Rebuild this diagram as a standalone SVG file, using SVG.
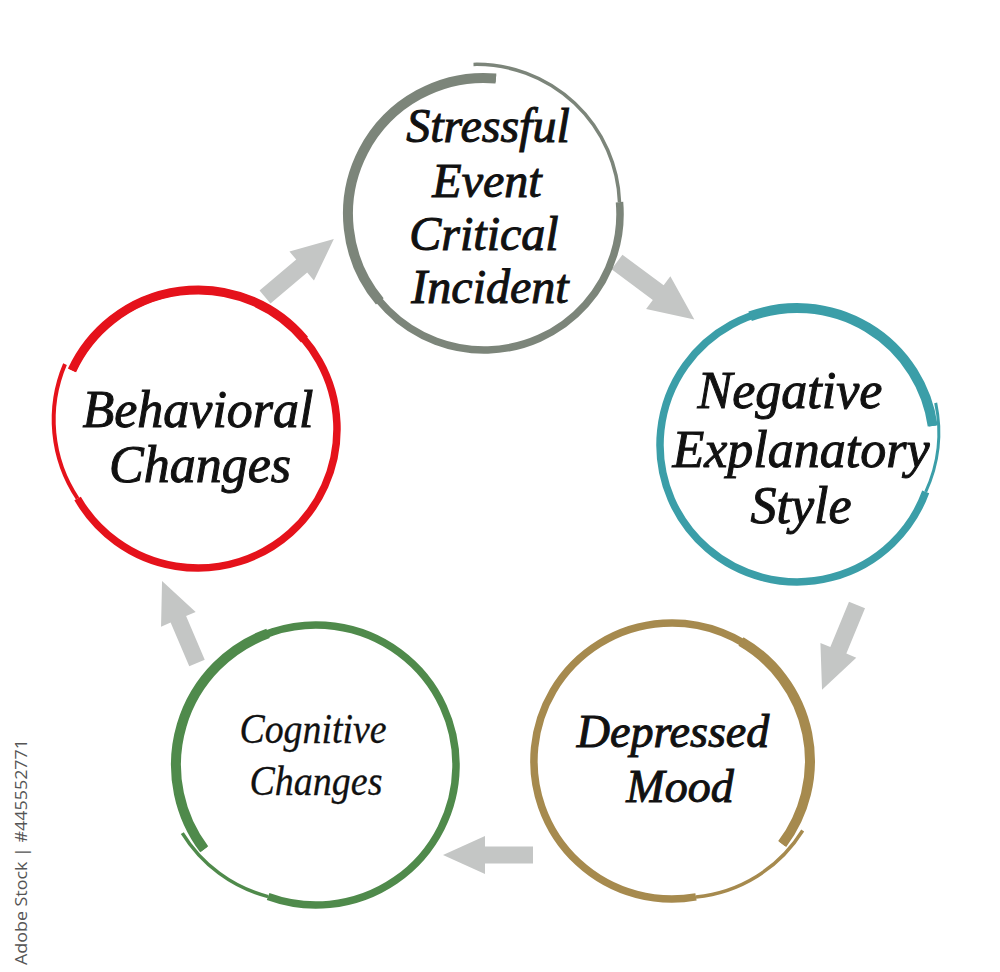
<svg xmlns="http://www.w3.org/2000/svg" xmlns:xlink="http://www.w3.org/1999/xlink" width="1000" height="972" viewBox="0 0 1000 972">
<style>
.ring{fill:none;stroke-linecap:butt}
.lbl{font-family:"Liberation Serif","Times New Roman",serif;font-style:italic;fill:#111;stroke:#111;stroke-width:1;text-anchor:middle}
.arrow{fill:#c4c6c5}
.wm{font-family:"Open Sans","Liberation Sans",sans-serif;fill:#555;font-size:17px;text-anchor:middle}
</style>
<defs>
<path id="arr" d="M0,-8.5 H48 V-19 L90,0 L48,19 V8.5 H0 Z"/>
</defs>
<rect width="1000" height="972" fill="#fff"/>

<g id="connectors" class="arrow">
<use xlink:href="#arr" transform="translate(265,297) rotate(-40.1)"/>
<use xlink:href="#arr" transform="translate(617,262) rotate(36.6) scale(1.07)"/>
<use xlink:href="#arr" transform="translate(857,605) rotate(112.4) scale(1.02)"/>
<use xlink:href="#arr" transform="translate(533,855) rotate(180)"/>
<use xlink:href="#arr" transform="translate(197,663) rotate(-113.1) scale(0.99)"/>
</g>

<g id="node-stressful">
<g class="ring" stroke="#7c857a">
<path d="M495.9,78.5 A136,136 0 1 0 619.5,202.1" stroke-width="7.5"/>
<path d="M495.9,78.5 A136,136 0 0 0 379.8,301.4" stroke-width="10"/>
<path d="M619.5,202.1 A143,143 0 0 0 473.5,64.4" stroke-width="3.5"/>
</g>
<text class="lbl" font-size="48"><tspan x="488" y="142">Stressful</tspan><tspan x="487" y="197">Event</tspan><tspan x="484" y="250">Critical</tspan><tspan x="490" y="303">Incident</tspan></text>
</g>

<g id="node-negative">
<g class="ring" stroke="#3b9ea8">
<path d="M925.7,491.9 A137,137 0 1 1 932.7,425.9" stroke-width="7.5"/>
<path d="M750.1,316.3 A137,137 0 0 1 932.7,425.9" stroke-width="10"/>
<path d="M925.7,491.9 A143,143 0 0 0 935.7,402.9" stroke-width="3"/>
</g>
<text class="lbl" font-size="52"><tspan x="790" y="408">Negative</tspan><tspan x="801" y="467">Explanatory</tspan><tspan x="801" y="523">Style</tspan></text>
</g>

<g id="node-depressed">
<g class="ring" stroke="#a68a4e">
<path d="M782.2,844 A138,138 0 1 0 696,896.9" stroke-width="7.5"/>
<path d="M782.2,844 A138,138 0 0 0 741,641.5" stroke-width="10"/>
<path d="M696,896.9 A142,142 0 0 0 802.7,830.5" stroke-width="3.5"/>
</g>
<text class="lbl" font-size="46"><tspan x="673" y="747">Depressed</tspan><tspan x="680" y="802">Mood</tspan></text>
</g>

<g id="node-cognitive">
<g class="ring" stroke="#4f8a4b">
<path d="M204.2,849.3 A140,140 0 1 1 268.1,896.6" stroke-width="7.5"/>
<path d="M204.2,849.3 A140,140 0 0 1 268.1,633.4" stroke-width="10"/>
<path d="M268.1,896.6 A143,143 0 0 1 182.3,833.1" stroke-width="3.5"/>
</g>
<text class="lbl" font-size="42" style="stroke-width:0.3"><tspan x="313" y="743" textLength="147" lengthAdjust="spacingAndGlyphs">Cognitive</tspan><tspan x="316" y="795" textLength="133" lengthAdjust="spacingAndGlyphs">Changes</tspan></text>
</g>

<g id="node-behavioral">
<g class="ring" stroke="#e5121b">
<path d="M72,370.3 A139,139 0 1 1 77.6,498.5" stroke-width="7.5"/>
<path d="M72,370.3 A139,139 0 0 1 304.5,339.6" stroke-width="9"/>
<path d="M77.6,498.5 A142,142 0 0 1 65,364.1" stroke-width="4"/>
</g>
<text class="lbl" font-size="52"><tspan x="198" y="427">Behavioral</tspan><tspan x="200" y="482">Changes</tspan></text>
</g>

<text class="wm" transform="translate(27,852) rotate(-90)" textLength="226" lengthAdjust="spacingAndGlyphs">Adobe Stock | #445552771</text>
</svg>
